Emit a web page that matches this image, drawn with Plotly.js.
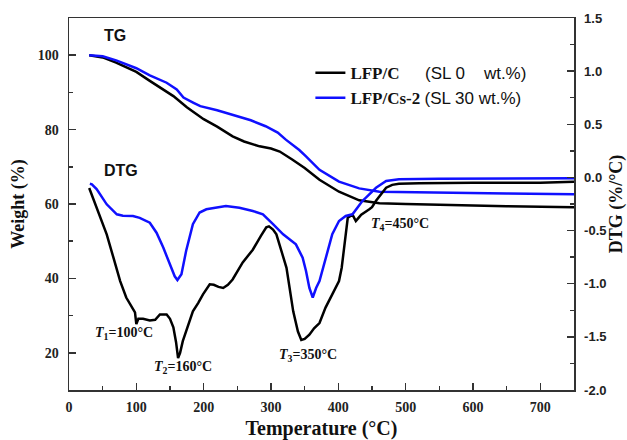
<!DOCTYPE html>
<html>
<head>
<meta charset="utf-8">
<script src="https://cdn.plot.ly/plotly-3.0.1.min.js"></script>
<style>html,body{margin:0;padding:0;background:#fff;}#chart{width:627px;height:440px;}</style>
</head>
<body>
<div id="chart"></div>
<script>
// TG curves (weight %, left axis)
const tgBlackT = [30,40,50,70,100,120,140,155,175,200,220,243,260,283,300,313,332,350,372,401,431,461,500,540,600,650,700,750];
const tgBlackW = [100,99.8,99.4,98.0,95.5,93.1,90.8,89,86,82.8,80.8,78.2,76.8,75.5,74.9,74.1,71.9,69.7,66.5,63.3,61,60.2,60,59.9,59.6,59.4,59.2,59.1];
const tgBlueT = [30,50,70,100,120,145,160,170,185,195,220,243,270,292,310,322,342,352,372,401,431,461,490,550,650,750];
const tgBlueW = [100,99.7,98.6,96.5,94.6,92.6,90.8,88.6,87.2,86.3,85.2,84,82.5,80.9,79.2,77.3,74.5,72.8,69.2,66,64.2,63.3,63.2,63,62.8,62.6];
// DTG curves (%/°C, right axis)
const dtgBlackT = [30,41,56,66,76,85,95,98,100,103,110,120,128,135,145,150,155,159,162,165,169,176,184,192,199,209,215,222,229,236,243,258,273,285,293,297,303,308,316,323,333,340,345,350,357,364,372,381,391,401,405,409,414,421,426,430,434,446,450,456,461,471,480,490,520,560,600,650,700,750];
const dtgBlackV = [-0.10,-0.285,-0.535,-0.755,-0.975,-1.13,-1.24,-1.27,-1.38,-1.33,-1.33,-1.345,-1.34,-1.29,-1.29,-1.33,-1.41,-1.55,-1.70,-1.65,-1.54,-1.40,-1.26,-1.18,-1.10,-1.006,-1.01,-1.03,-1.04,-1.01,-0.96,-0.80,-0.68,-0.55,-0.47,-0.46,-0.49,-0.535,-0.70,-0.85,-1.26,-1.45,-1.53,-1.52,-1.48,-1.42,-1.37,-1.225,-1.10,-0.975,-0.85,-0.63,-0.38,-0.35,-0.41,-0.38,-0.35,-0.30,-0.28,-0.22,-0.175,-0.097,-0.07,-0.06,-0.055,-0.05,-0.05,-0.05,-0.05,-0.04];
const dtgBlueT = [31,34,41,56,71,80,95,105,120,130,140,150,157,161,167,174,184,194,204,233,253,273,288,303,318,337,347,352,357,362,367,372,381,391,401,411,421,428,436,441,456,471,490,550,650,750];
const dtgBlueV = [-0.06,-0.065,-0.11,-0.253,-0.347,-0.36,-0.363,-0.38,-0.426,-0.52,-0.66,-0.82,-0.93,-0.965,-0.91,-0.69,-0.44,-0.33,-0.30,-0.27,-0.285,-0.316,-0.347,-0.44,-0.535,-0.63,-0.755,-0.88,-1.04,-1.13,-1.04,-0.975,-0.755,-0.535,-0.41,-0.363,-0.347,-0.285,-0.22,-0.19,-0.097,-0.034,-0.018,-0.012,-0.01,-0.008];
// right axis tick labels
const dtgTickVals = [-2.0,-1.5,-1.0,-0.5,0.0,0.5,1.0,1.5];
const dtgTickText = ["-2.0","-1.5","-1.0","-0.5","0.0","0.5","1.0","1.5"];

const NB = "\u00a0";
const nameBlack = "<b>LFP/C</b>" + NB.repeat(6) + "<span style=\"font-family:Liberation Sans;font-weight:normal\">(SL 0" + NB.repeat(4) + "wt.%)</span>";
const nameBlue = "<b>LFP/Cs-2</b>" + NB + "<span style=\"font-family:Liberation Sans;font-weight:normal\">(SL 30 wt.%)</span>";

const BLACK = "#000000", BLUE = "#1010ff";
const traces = [
  {x: tgBlackT, y: tgBlackW, type: "scatter", mode: "lines", line: {color: BLACK, width: 2.5}, name: nameBlack, yaxis: "y"},
  {x: tgBlueT, y: tgBlueW, type: "scatter", mode: "lines", line: {color: BLUE, width: 2.5}, name: nameBlue, yaxis: "y"},
  {x: dtgBlackT, y: dtgBlackV, type: "scatter", mode: "lines", line: {color: BLACK, width: 2.5}, showlegend: false, yaxis: "y2"},
  {x: dtgBlueT, y: dtgBlueV, type: "scatter", mode: "lines", line: {color: BLUE, width: 2.5}, showlegend: false, yaxis: "y2"}
];

const serifB = {family: "Liberation Serif", size: 14, color: "#222", weight: 700};
const sansB = {family: "Liberation Sans", size: 13, color: "#222", weight: 700};
const AX = "#333";
const ann = (x, y, text, size, fam) => ({x: x, y: y, xref: "x", yref: "y", text: text, showarrow: false,
  font: {family: fam || "Liberation Serif", size: size || 14, color: "#111", weight: 700}});

const layout = {
  width: 627, height: 440,
  margin: {l: 69, r: 53, t: 18, b: 50},
  paper_bgcolor: "#fff", plot_bgcolor: "#fff",
  showlegend: true,
  legend: {x: 0.478, y: 0.9, xanchor: "left", yanchor: "top", bgcolor: "rgba(0,0,0,0)",
    font: {family: "Liberation Serif", size: 17, color: "#111"}, tracegroupgap: 0, itemwidth: 30},
  xaxis: {range: [0, 750], dtick: 100, tick0: 0, ticks: "inside", ticklen: 7, tickwidth: 1.5, tickcolor: AX,
    minor: {dtick: 50, ticks: "inside", ticklen: 4, tickwidth: 1.5, tickcolor: AX},
    showline: true, linecolor: AX, linewidth: 1.5, mirror: true, showgrid: false, zeroline: false,
    tickfont: serifB, ticklabelstandoff: 4,
    title: {text: "Temperature (°C)", font: {family: "Liberation Serif", size: 20, color: "#111", weight: 700}, standoff: 6}},
  yaxis: {range: [10, 110], dtick: 20, tick0: 0, ticks: "inside", ticklen: 7, tickwidth: 1.5, tickcolor: AX,
    minor: {dtick: 10, ticks: "inside", ticklen: 4, tickwidth: 1.5, tickcolor: AX},
    showline: true, linecolor: AX, linewidth: 1.5, showgrid: false, zeroline: false,
    tickfont: serifB, ticklabelstandoff: 6,
    title: {text: "Weight (%)", font: {family: "Liberation Serif", size: 18, color: "#111", weight: 700}, standoff: 8}},
  yaxis2: {overlaying: "y", side: "right", range: [-2, 1.5], tickvals: dtgTickVals, ticktext: dtgTickText,
    ticks: "inside", ticklen: 7, tickwidth: 1.5, tickcolor: AX,
    minor: {dtick: 0.25, tick0: 0, ticks: "inside", ticklen: 4, tickwidth: 1.5, tickcolor: AX},
    showline: true, linecolor: AX, linewidth: 1.5, showgrid: false, zeroline: false,
    tickfont: sansB, ticklabelstandoff: 6,
    title: {text: "DTG (%/°C)", font: {family: "Liberation Serif", size: 18, color: "#111", weight: 700}, standoff: 6}},
  annotations: [
    ann(68, 105.4, "TG", 16, "Liberation Sans"),
    ann(77, 68.9, "DTG", 16, "Liberation Sans"),
    ann(82, 25.1, "<i>T</i><sub>1</sub>=100°C", 14),
    ann(169, 16, "<i>T</i><sub>2</sub>=160°C", 14),
    ann(355, 19.2, "<i>T</i><sub>3</sub>=350°C", 14),
    ann(491, 54.6, "<i>T</i><sub>4</sub>=450°C", 14)
  ]
};

Plotly.newPlot("chart", traces, layout, {displayModeBar: false, staticPlot: true});
</script>
</body>
</html>
